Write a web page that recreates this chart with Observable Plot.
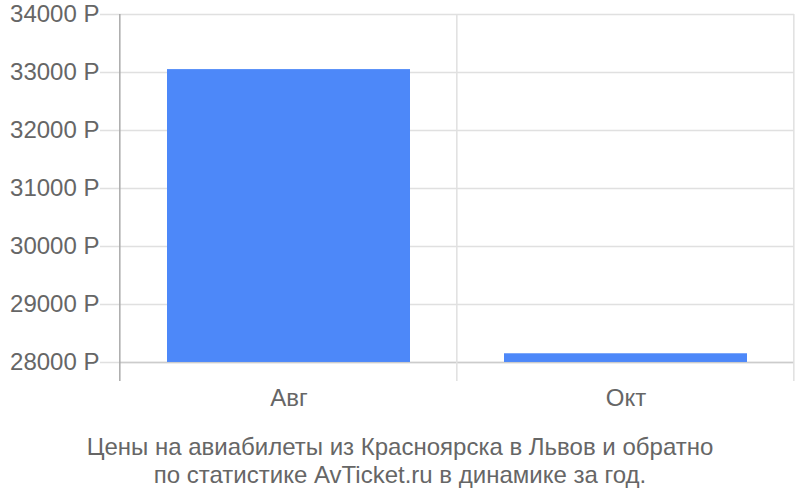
<!DOCTYPE html>
<html><head><meta charset="utf-8">
<script src="https://cdn.jsdelivr.net/npm/d3@7"></script>
<script src="https://cdn.jsdelivr.net/npm/@observablehq/plot@0.6"></script>
<style>
body{margin:0;background:#fff;font-family:"Liberation Sans",Arial,sans-serif;}
#cap{text-align:center;color:#666;font-size:24px;line-height:28px;margin-top:23px;width:800px;}
</style></head><body>
<div id="chart"></div>
<div id="cap">Цены на авиабилеты из Красноярска в Львов и обратно<br>по статистике AvTicket.ru в динамике за год.</div>
<script>
const months = ["Авг", "Окт"];
const prices = [33050, 28150];
const yTicks = [28000, 29000, 30000, 31000, 32000, 33000, 34000];
const baseline = 28000;
const data = months.map((m, i) => ({month: m, price: prices[i]}));

const boundaries = (index, scales, values, dims) => {
  const g = d3.create("svg:g");
  const xs = months.map(m => scales.x(m));
  const step = xs[1] - xs[0];
  const bw = step * 0.72;
  const left = xs[0] - (step - bw) / 2;
  for (let k = 1; k <= months.length; k++) {
    const x = left + k * step;
    g.append("line").attr("x1", x).attr("x2", x)
      .attr("y1", dims.marginTop).attr("y2", dims.height - dims.marginBottom)
      .attr("stroke", "#e0e0e0").attr("stroke-width", 1.5);
  }
  g.append("line").attr("x1", left).attr("x2", left)
    .attr("y1", dims.marginTop).attr("y2", dims.height - dims.marginBottom)
    .attr("stroke", "#aaa").attr("stroke-width", 1.5);
  return g.node();
};

const plot = Plot.plot({
  width: 800, height: 410,
  marginLeft: 120, marginRight: 6, marginTop: 14, marginBottom: 29,
  style: {fontFamily: "Liberation Sans, Arial, sans-serif", fontSize: "24px", color: "#666", background: "#fff"},
  x: {domain: months, paddingInner: 0.28, paddingOuter: 0.14, label: null},
  y: {domain: [27672, 34000], label: null},
  marks: [
    Plot.ruleY(yTicks, {stroke: "#e0e0e0", strokeWidth: 1.5, strokeOpacity: 1,
      render: (i, s, v, d, c, next) => { const n = next(i, s, v, d, c); d3.select(n).selectAll("line").attr("x1", d.marginLeft - 20); return n; }}),
    Plot.ruleY([baseline], {stroke: "#ccc", strokeWidth: 1.5}),
    Plot.barY(data, {x: "month", y1: () => baseline, y2: "price", fill: "#4d88f9"}),
    Plot.axisY({ticks: yTicks, tickSize: 0, tickPadding: 21, tickFormat: d => d + " Р", fill: "#666", fontSize: 24}),
    Plot.axisX({tickSize: 0, tickPadding: 7, fill: "#666", fontSize: 24}),
    Plot.frame({stroke: "none", render: boundaries})
  ]
});
document.getElementById("chart").appendChild(plot);
</script>
</body></html>
